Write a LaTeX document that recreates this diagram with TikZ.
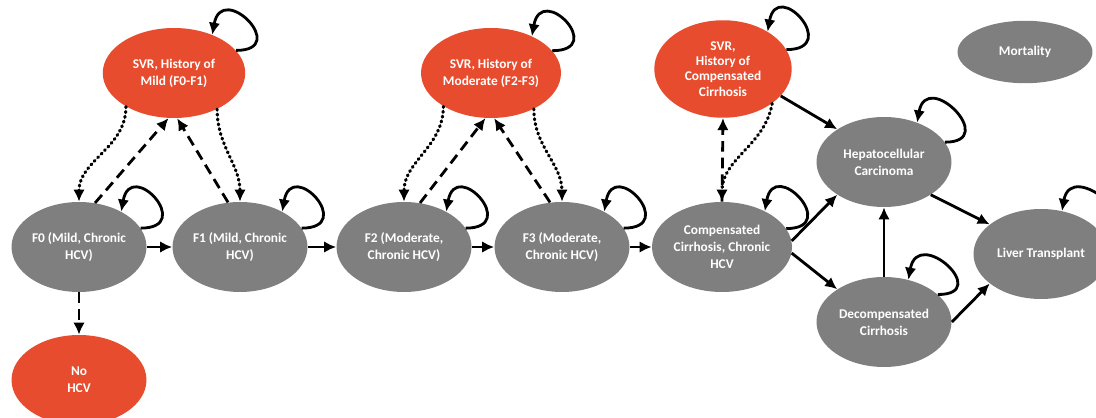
\documentclass[tikz,border=0pt]{standalone}
\usepackage{fontspec}
\setmainfont{Carlito}
\usetikzlibrary{arrows.meta,shapes.geometric}
\definecolor{svrred}{HTML}{E84C2E}
\definecolor{hcvgray}{HTML}{7F7F7F}

\begin{document}
\begin{tikzpicture}[x=0.02cm,y=0.02cm,
  every node/.style={font=\fontsize{7.6}{9.6}\selectfont\bfseries},
  state/.style={ellipse,fill=hcvgray,text=white,align=center,inner sep=0pt,minimum width=2.7cm,minimum height=1.8cm},
  svr/.style={state,fill=svrred,minimum width=2.8cm},
  arr/.style={->,line width=1.6pt},
  dashedarr/.style={arr,dash pattern=on 6pt off 3.5pt},
  dottedarr/.style={arr,line width=1.8pt,line cap=round,dash pattern=on 0.6pt off 2.2pt},
  >={Latex[length=2.4mm,width=2.3mm]}]
\clip (0,0) rectangle (1096,-418);
\node[svr,minimum width=2.85cm] (svrA) at (174,-73) {SVR, History of\\Mild (F0-F1)};
\node[svr] (svrB) at (491,-73) {SVR, History of\\Moderate (F2-F3)};
\node[svr,minimum width=2.75cm,minimum height=1.95cm,font=\fontsize{7.6}{8.7}\selectfont\bfseries] (svrC) at (723,-69) {SVR,\\History of\\Compensated\\Cirrhosis};
\node[state,minimum height=1.25cm] (mort) at (1025,-52) {Mortality};
\node[state] (f0) at (79,-247) {F0 (Mild, Chronic\\HCV)};
\node[state] (f1) at (240,-247) {F1 (Mild, Chronic\\HCV)};
\node[state] (f2) at (404,-247) {F2 (Moderate,\\Chronic HCV)};
\node[state] (f3) at (562,-247) {F3 (Moderate,\\Chronic HCV)};
\node[state,minimum width=2.8cm] (cc) at (722,-247) {Compensated\\Cirrhosis, Chronic\\HCV};
\node[state] (hcc) at (884,-162) {Hepatocellular\\Carcinoma};
\node[state] (dc) at (884,-322) {Decompensated\\Cirrhosis};
\node[state] (lt) at (1041,-254) {Liver Transplant};
\node[svr,minimum width=2.7cm] (nohcv) at (79,-380) {No\\HCV};
% progression of fibrosis
\draw[arr] (f0) -- (f1);
\draw[arr] (f1) -- (f2);
\draw[arr] (f2) -- (f3);
\draw[arr] (f3) -- (cc);
\draw[dashedarr] (f0) -- (nohcv);
% SVR and reinfection
\draw[dottedarr] (svrA.215) to[out=-90,in=90] (f0.north);
\draw[dottedarr] (svrA.-40) to[out=-90,in=90] (f1.north);
\draw[dashedarr] (f0.70) -- (svrA.-97);
\draw[dashedarr] (f1.105) -- (svrA.-86);
\draw[dottedarr] (svrB.215) to[out=-90,in=90] (f2.north);
\draw[dottedarr] (svrB.-40) to[out=-90,in=90] (f3.north);
\draw[dashedarr] (f2.70) -- (svrB.-97);
\draw[dashedarr] (f3.105) -- (svrB.-86);
\draw[dottedarr] (svrC.-35) to[out=-100,in=90] (cc.north);
\draw[dashedarr] (cc.north) -- (svrC.south);
% cirrhosis and beyond
\draw[arr] (svrC.-25) -- (hcc.145);
\draw[arr] (cc.5) -- (hcc.215);
\draw[arr] (cc.-5) -- (dc.145);
\draw[arr] (dc) -- (hcc);
\draw[arr] (hcc.-35) -- (lt.150);
\draw[arr] (dc.0) -- (lt.210);
% staying in the same state
\draw[arr] (svrA.20) to[out=0,in=80,distance=1.1cm] (svrA.45);
\draw[arr] (svrB.20) to[out=0,in=80,distance=1.1cm] (svrB.42);
\draw[arr] (svrC.17) to[out=0,in=80,distance=1.1cm] (svrC.40);
\draw[arr] (f0.17) to[out=0,in=80,distance=1.1cm] (f0.40);
\draw[arr] (f1.17) to[out=0,in=80,distance=1.1cm] (f1.40);
\draw[arr] (f2.17) to[out=0,in=80,distance=1.1cm] (f2.40);
\draw[arr] (f3.17) to[out=0,in=80,distance=1.1cm] (f3.40);
\draw[arr] (cc.16) to[out=0,in=80,distance=1.1cm] (cc.40);
\draw[arr] (hcc.18) to[out=0,in=80,distance=1.1cm] (hcc.50);
\draw[arr] (dc.27) to[out=0,in=80,distance=1.1cm] (dc.60);
\draw[arr] (lt.20) to[out=0,in=80,distance=1.1cm] (lt.64);
\end{tikzpicture}
\end{document}
